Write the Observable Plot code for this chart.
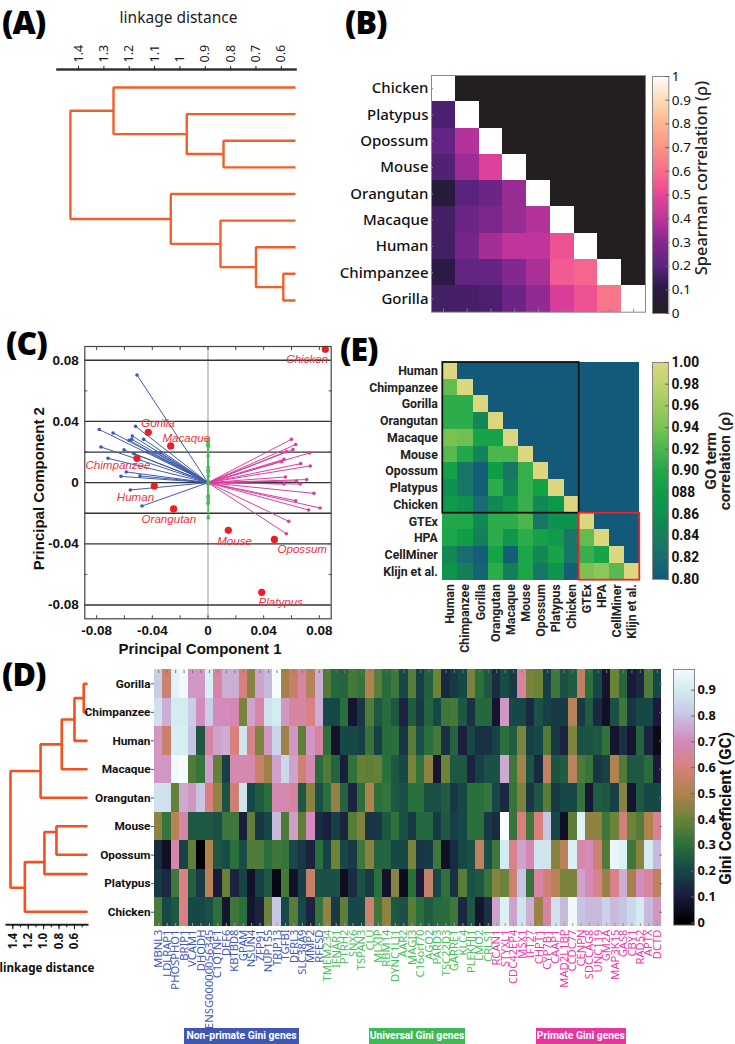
<!DOCTYPE html>
<html><head><meta charset="utf-8">
<script src="https://cdn.jsdelivr.net/npm/d3@7"></script>
<script src="https://cdn.jsdelivr.net/npm/@observablehq/plot@0.6"></script>
<style>
html,body{margin:0;padding:0;background:#fff;width:735px;height:1044px;overflow:hidden}
#page{position:relative;width:735px;height:1044px;overflow:hidden}
#page>div{position:absolute}
.letter{font-family:"Open Sans","Noto Sans",sans-serif;font-weight:800;font-size:32px;line-height:44px;letter-spacing:-1px;color:#000;padding:0 2px}
.tag{color:#fff;font-family:Roboto,sans-serif;font-weight:700;font-size:10.3px;line-height:16px;text-align:center;white-space:nowrap}
svg{overflow:visible;background:transparent}
</style></head><body><div id="page"></div>
<script>
// ---------- shared labels
const phyloOrder = ["Chicken","Platypus","Opossum","Mouse","Orangutan","Macaque","Human","Chimpanzee","Gorilla"];
const giniRows = ["Gorilla","Chimpanzee","Human","Macaque","Orangutan","Mouse","Opossum","Platypus","Chicken"];

// ---------- panel A dendrogram (node index: 0-8 leaves, 9+ merges)
const aLeafY = [0,1,2,3,4,5,6,7,8];
const aMergeA = [7,6,5,4,2,1,0,15];
const aMergeB = [8,9,10,11,3,13,14,12];
const aMergeH = [0.592,0.70,0.84,1.036,0.828,0.973,1.262,1.432];
const aMergeY = [7.5,6.75,5.875,4.94,2.5,1.75,0.875,2.9];
const aTicks = [1.4,1.3,1.2,1.1,1,0.9,0.8,0.7,0.6];

// ---------- panel B
const spearman = [
 [1],
 [.17,1],
 [.22,.38,1],
 [.18,.34,.47,1],
 [.08,.20,.24,.33,1],
 [.15,.24,.28,.33,.38,1],
 [.15,.26,.35,.40,.40,.53,1],
 [.10,.22,.22,.29,.36,.55,.58,1],
 [.15,.16,.17,.24,.32,.45,.53,.62,1]];
const bStops = [0,.1,.2,.3,.4,.5,.6,.7,.8,.9,1];
const bColors = ["#231f20","#2b1a46","#5a2380","#86288f","#bf359b","#ec4698","#f76d8b","#fb9484","#fdb690","#fedcb8","#ffffff"];

// ---------- panel C
const speciesPC1 = [.0843,-.0429,-.0268,-.051,-.0386,-.0247,.0146,.0477,.0386];
const speciesPC2 = [.0872,.0329,.024,.0159,-.0022,-.0172,-.0312,-.0371,-.0717];
const speciesNames = ["Chicken","Gorilla","Macaque","Chimpanzee","Human","Orangutan","Mouse","Opossum","Platypus"];
const speciesTextX = [.0713,-.0359,-.0156,-.0647,-.0521,-.0281,.0191,.0677,.0522];
const speciesTextY = [.0805,.0386,.0289,.0113,-.0098,-.0238,-.0382,-.0436,-.0779];
const bluePC1 = [-.051,-.0781,-.0682,-.052,-.0544,-.0462,-.0568,-.0548,-.0769,-.0603,-.0718,-.0532,-.0587,-.0625,-.0489,-.0558,-.0474,-.0436,-.0376,-.034];
const bluePC2 = [.0704,.0347,.0325,.0368,.0305,.0283,.0277,.0283,.0233,.0214,.0159,.019,.007,.0041,.0044,-.0048,-.0153,.02,.02,.0196];
const pinkPC1 = [.0599,.063,.0611,.0563,.073,.0546,.0529,.0666,.0735,.0556,.0709,.0635,.0546,.0663,.0761,.063,.0805,.0723,.058,.0563];
const pinkPC2 = [.0283,.0249,.0216,.0203,.0194,.0153,.0137,.0124,.0109,.0037,.002,.0011,-.0009,-.0009,-.007,-.0118,-.0166,-.0179,-.0253,-.0334];
const greenPC1 = [.0002,.0001,.0002,.0002,.0001,.0002,.0001,.0002,.0001,.0002,.0002,.0001,.0002,.0001,.0002,.0001,.0002,.0002,.0001,.0002];
const greenPC2 = [.0277,.0266,.0255,.0251,.0244,.0238,.0174,.01,.0081,.007,.0044,.0011,-.0002,-.0011,-.0087,-.0094,-.0105,-.0126,-.0137,-.0229];
const cLines = [.08,.04,.02,0,-.02,-.04,-.08];
const cTicks = [-.08,-.04,0,.04,.08];
const cMinor = [-.08,-.06,-.04,-.02,0,.02,.04,.06,.08];

// ---------- panel D
const genesNonPrimate = ["MBNL3","LDLRAP1","PHOSPHO1","BRIP1","VCAM1","DHODH","ENSG00000056345","C1QTNF1","DEF6","KBTBD8","GPAM","NSUN4","ZFP91","NUP155","TRIP13","TGFBI","DERL3","SLC38A9","MMP2","RFESD"];
const genesUniversal = ["TMEM234","IFNAR1","PTRH2","SNX6","TSPAN3","CLU","MLXIP","RBM14","DYNC1LI1","AAR2","MAGI3","C16orf70","AGO2","PARD3","TSC22D3","GARRE1","KLC4","PLEKHJ1","LMO2","CRLS1"];
const genesPrimate = ["RCAN1","STYXL1","CDC42EP4","MSX1","IFT27","CHPT1","CYP7B1","CAAP1","MAD2L1BP","CCDC77","CENPN","SDCCAG8","UNC119","GM2A","MAP3K15","GAS8","CBY1","RAD52","APTX","DCTD"];
const giniGorilla = [.82,.57,.93,.97,.72,.72,.92,.66,.76,.76,.6,.44,.74,.78,.98,.48,.55,.66,.52,.76, .36,.28,.27,.34,.32,.5,.37,.29,.33,.2, .37,.18,.26,.4,.13,.17,.2,.42,.3,.24,.14,.21,.17,.65,.42,.4,.18,.33,.22,.25,.54,.3,.2,.08,.4,.28,.1,.13,.36,.2];
const giniChimp = [.87,.76,.9,.9,.82,.7,.82,.7,.7,.68,.42,.74,.66,.87,.9,.72,.65,.66,.61,.76, .2,.2,.3,.08,.16,.36,.24,.29,.24,.12, .25,.17,.27,.2,.33,.34,.24,.15,.28,.28,.08,.72,.2,.2,.13,.22,.18,.17,.17,.52,.17,.25,.13,.06,.22,.33,.16,.2,.2,.1];
const giniHuman = [.72,.56,.91,.91,.8,.24,.66,.74,.76,.6,.88,.62,.43,.72,.84,.47,.72,.38,.72,.65, .3,.07,.2,.2,.18,.32,.18,.29,.3,.16, .37,.22,.3,.34,.15,.27,.11,.2,.15,.15,.19,.3,.25,.42,.18,.2,.36,.17,.12,.43,.22,.23,.24,.31,.08,.15,.08,.27,.12,.04];
const giniMacaque = [.72,.72,.97,.98,.36,.32,.73,.39,.18,.68,.68,.68,.56,.47,.74,.85,.74,.57,.68,.29, .36,.27,.11,.31,.39,.38,.39,.3,.24,.2, .42,.31,.45,.08,.4,.24,.24,.12,.18,.22,.22,.75,.33,.48,.23,.13,.54,.23,.25,.53,.35,.32,.16,.19,.5,.36,.24,.24,.29,.1];
const giniOrangutan = [.87,.87,.39,.75,.72,.8,.6,.46,.23,.57,.88,.2,.25,.3,.68,.68,.65,.24,.44,.22, .3,.46,.27,.12,.3,.5,.3,.32,.24,.22, .3,.3,.22,.22,.25,.16,.2,.3,.3,.32,.2,.13,.32,.42,.16,.24,.37,.17,.2,.2,.32,.09,.25,.24,.18,.44,.08,.24,.2,.2];
const giniMouse = [.45,.32,.52,.66,.24,.24,.24,.22,.33,.33,.11,.38,.16,.2,.78,.35,.73,.38,.7,.14, .11,.18,.12,.37,.43,.16,.16,.24,.31,.22, .17,.28,.28,.17,.24,.18,.2,.3,.3,.17,.14,.99,.32,.6,.33,.6,.8,.2,.06,.38,.93,.45,.45,.33,.4,.58,.4,.36,.5,.63];
const giniOpossum = [.14,.06,.67,.19,.38,0,.5,.24,.21,.3,.21,.36,.36,.3,.33,.32,.2,.16,.12,.3, .19,.4,.2,.17,.33,.44,.27,.27,.2,.2, .42,.16,.17,.33,.06,.14,.2,.22,.54,.22,.33,.9,.62,.74,.68,.88,.88,.44,.52,.92,.67,.7,.57,.36,.95,.92,.33,.44,.9,.78];
const giniPlatypus = [.17,.13,.33,.61,.26,.17,.52,.1,.39,.12,.19,.07,.18,.24,.03,.34,.07,.18,.55,.22, .22,.22,.05,.14,.22,.17,.3,.07,.44,.05, .3,.1,.55,.2,.31,.15,.37,.22,.24,.32,.44,.4,.57,.8,.32,.66,.58,.52,.42,.42,.74,.69,.62,.46,.62,.76,.48,.7,.65,.54];
const giniChicken = [.35,.2,.24,.61,.2,.2,.22,.3,.08,.33,.3,.08,.12,.4,.8,.2,.37,.2,.12,.32, .45,.17,.38,.2,.2,.57,.33,.45,.24,.22, .37,.3,.25,.29,.29,.33,.13,.24,.08,.15,.74,.92,.74,.88,.76,.47,.66,.87,.78,.97,.8,.78,.78,.83,.78,.8,.85,.9,.78,.72];
const giniTable = [giniGorilla,giniChimp,giniHuman,giniMacaque,giniOrangutan,giniMouse,giniOpossum,giniPlatypus,giniChicken];
const dStops = [0,.1,.2,.3,.4,.5,.6,.7,.8,.9,1];
const dColors = ["#000000","#1c1a3c","#164848","#2a703c","#6c8338","#b0824e","#d9807f","#d48abc","#c6c6e4","#d2ecf0","#ffffff"];
const dTicks = [.1,.2,.3,.4,.5,.6,.7,.8,.9];
// D dendrogram
const dLeafY = [0,1,2,3,4,5,6,6.68,8];
const dMergeA = [0,9,10,11,5,13,14,12];
const dMergeB = [1,2,3,4,6,7,8,15];
const dMergeH = [.48,.6,.765,1.04,.834,.99,1.244,1.43];
const dMergeY = [.5,1.25,2.125,3.06,5.2,6.26,7.16,5.1];
const dDendroTicks = [1.4,1.2,1,.8,.6];
const dDendroMinor = [1.4,1.3,1.2,1.1,1,.9,.8,.7,.6,.5];

// ---------- panel E
const goNames = ["Human","Chimpanzee","Gorilla","Orangutan","Macaque","Mouse","Opossum","Platypus","Chicken","GTEx","HPA","CellMiner","Klijn et al."];
const goCorr = [
 [1],
 [.93,1],
 [.905,.905,1],
 [.905,.905,.85,1],
 [.94,.935,.89,.89,1],
 [.925,.90,.845,.92,.92,1],
 [.885,.83,.805,.88,.83,.91,1],
 [.86,.83,.805,.905,.845,.91,.885,1],
 [.875,.86,.82,.85,.875,.91,.85,.87,1],
 [.90,.90,.85,.905,.905,.92,.83,.86,.86,1],
 [.895,.88,.84,.905,.87,.905,.885,.875,.83,.93,1],
 [.85,.82,.805,.89,.805,.895,.85,.89,.83,.91,.89,1],
 [.865,.84,.81,.905,.84,.895,.83,.865,.805,.94,.95,.925,1]];
const eStops = [.8,.82,.84,.86,.88,.9,.92,.94,.96,.98,1];
const eColors = ["#12597a","#1a6c70","#14805a","#0f9150","#0f9e46","#22a84a","#4cb64e","#7cc253","#9fcb5e","#c3d26f","#dcd67e"];
const eTicks = [.8,.82,.84,.86,.88,.9,.92,.94,.96,.98,1];
const eTickLabels = ["0.80","0.82","0.84","0.86","088","0.90","0.92","0.94","0.96","0.98","1.00"];

// ---------- layout helpers
const page = document.getElementById("page");
function put(el,left,top){const d=document.createElement("div");d.style.left=left+"px";d.style.top=top+"px";d.appendChild(el);page.appendChild(d);return d;}
function chart(b,opts){
  const plot = Plot.plot({
    width:b.right-b.left+b.ml+b.mr, height:b.bottom-b.top+b.mt+b.mb,
    marginLeft:b.ml,marginRight:b.mr,marginTop:b.mt,marginBottom:b.mb, ...opts});
  put(plot,b.left-b.ml,b.top-b.mt);
}
function html(cls,text,left,top,style={}){
  const d=document.createElement("div");d.className=cls;d.textContent=text;d.style.left=left+"px";d.style.top=top+"px";
  Object.assign(d.style,style);page.appendChild(d);
}
function colorbar(b,stops,colors,domain,ticks,fmt,labelMarks,sty){
  const steps=d3.range(domain[0],domain[1],(domain[1]-domain[0])/240);
  const dy=(domain[1]-domain[0])/230;
  chart(b,{style:sty,x:{axis:null,domain:[0,1]},y:{domain},
    color:{type:"linear",domain:stops,range:colors,interpolate:"rgb"},
    marks:[
      Plot.rect(steps,{x1:0,x2:1,y1:d=>d,y2:d=>Math.min(d+dy,domain[1]),fill:d=>d,shapeRendering:"crispEdges"}),
      Plot.frame({stroke:"#888"}),
      Plot.axisY({anchor:"right",ticks,tickFormat:fmt,label:null,tickSize:-4,tickPadding:7,stroke:"#666",fill:"#111"}),
      ...labelMarks]});
}
function dendroPaths(leafY,A,B,H,Y,leafH){
  const nodeY=i=>i<leafY.length?leafY[i]:Y[i-leafY.length];
  const nodeH=i=>i<leafY.length?leafH:H[i-leafY.length];
  return A.flatMap((a,k)=>[
    {k,v:nodeH(a),r:nodeY(a)},{k,v:H[k],r:nodeY(a)},{k,v:H[k],r:nodeY(B[k])},{k,v:nodeH(B[k]),r:nodeY(B[k])}]);
}

// ---------- panel letters
html("letter","(A)",0,0);
html("letter","(B)",343,0);
html("letter","(C)",4,321);
html("letter","(E)",338,327);
html("letter","(D)",0,652);

// ---------- A
chart({left:57,right:295,top:69,bottom:302.6,ml:0,mr:0,mt:69,mb:4},{
  style:{fontFamily:'"Noto Sans",sans-serif',fontSize:"12.5px",color:"#222"},
  x:{domain:[1.483,.544],axis:null},y:{domain:[8.1,-.677],axis:null},
  marks:[
    Plot.line(dendroPaths(aLeafY,aMergeA,aMergeB,aMergeH,aMergeY,.544),{x:"v",y:"r",z:"k",stroke:"#f0602a",strokeWidth:2.4,strokeLinejoin:"miter",strokeLinecap:"butt"}),
    Plot.frame({anchor:"top",stroke:"#333",strokeWidth:2.6}),
    Plot.axisX({anchor:"top",ticks:aTicks,tickFormat:d=>String(d),tickRotate:-90,tickSize:4,tickPadding:3,label:null}),
    Plot.text(["linkage distance"],{frameAnchor:"top",dy:-58,dx:2,fontSize:15.5})
  ]});

// ---------- B
const bCells = phyloOrder.flatMap((r,i)=>phyloOrder.map((c,j)=>({r,c,v:j<=i?spearman[i][j]:0})));
chart({left:431,right:645,top:75,bottom:311.7,ml:100,mr:4,mt:4,mb:4},{
  style:{fontFamily:'"Noto Sans",sans-serif',fontSize:"15px",color:"#111",fontWeight:500},
  x:{domain:phyloOrder,padding:0,round:false,axis:null},y:{domain:phyloOrder,padding:0,round:false,label:null},
  color:{type:"linear",domain:bStops,range:bColors,interpolate:"rgb"},
  marks:[
    Plot.cell(bCells,{x:"c",y:"r",fill:"v",shapeRendering:"crispEdges"}),
    Plot.frame({stroke:"#888"}),
    Plot.axisY({anchor:"left",tickSize:-2,tickPadding:5,stroke:"#888",fill:"#111",label:null}),
    Plot.axisX({anchor:"bottom",tickSize:-3,tickFormat:()=>"",stroke:"#888",label:null})
  ]});
colorbar({left:651.7,right:668,top:76,bottom:313,ml:2,mr:67,mt:4,mb:4},bStops,bColors,[0,1],bStops,d=>String(d),
  [Plot.text(["Spearman correlation (ρ)"],{frameAnchor:"right",textAnchor:"middle",rotate:-90,dx:33,dy:-17,fontSize:16.4,fontWeight:500})],
  {fontFamily:'"Noto Sans",sans-serif',fontSize:"13.5px",color:"#222"});

// ---------- C
chart({left:84.3,right:330.7,top:346,bottom:618.3,ml:84.3,mr:4,mt:6,mb:42},{
  style:{fontFamily:'"Liberation Sans",Arial,sans-serif',fontSize:"13.5px",color:"#111",fontWeight:700},
  x:{domain:[-.0885,.0885]},y:{domain:[-.089,.089]},
  marks:[
    Plot.ruleX([0],{stroke:"#999",strokeWidth:1}),
    Plot.ruleY(cLines,{stroke:"#333",strokeWidth:1.3}),
    Plot.link(bluePC1,{x1:0,y1:0,x2:bluePC1,y2:bluePC2,stroke:"#3f5cab",strokeWidth:1}),
    Plot.dot(bluePC1,{x:bluePC1,y:bluePC2,r:1.8,fill:"#3f5cab"}),
    Plot.link(pinkPC1,{x1:0,y1:0,x2:pinkPC1,y2:pinkPC2,stroke:"#d8409f",strokeWidth:1}),
    Plot.dot(pinkPC1,{x:pinkPC1,y:pinkPC2,r:1.8,fill:"#d8409f"}),
    Plot.link(greenPC1,{x1:0,y1:0,x2:greenPC1,y2:greenPC2,stroke:"#4cbb5e",strokeWidth:1.4}),
    Plot.dot(greenPC1,{x:greenPC1,y:greenPC2,r:1.9,fill:"#4cbb5e"}),
    Plot.dot(speciesPC1,{x:speciesPC1,y:speciesPC2,r:3.6,fill:"#ee1c25"}),
    Plot.text(speciesNames,{x:speciesTextX,y:speciesTextY,text:d=>d,fill:"#ed3338",fontStyle:"italic",fontWeight:400,fontSize:11.6}),
    Plot.frame({stroke:"#444",strokeWidth:1.2}),
    Plot.axisX({anchor:"top",ticks:cMinor,tickSize:-3,tickFormat:()=>"",stroke:"#444",label:null}),
    Plot.axisX({anchor:"bottom",ticks:cMinor,tickSize:-3,tickFormat:()=>"",stroke:"#444",label:null}),
    Plot.axisY({anchor:"right",ticks:[.06,.04,.02,-.02,-.04,-.06],tickSize:-3,tickFormat:()=>"",stroke:"#444",label:null}),
    Plot.axisY({anchor:"left",ticks:[.06,.02,-.02,-.06],tickSize:-3,tickFormat:()=>"",stroke:"#444",label:null}),
    Plot.axisX({anchor:"bottom",ticks:cTicks,tickSize:0,tickPadding:7,tickFormat:d=>d===0?"0":d.toFixed(2),label:null}),
    Plot.axisY({anchor:"left",ticks:cTicks,tickSize:0,tickPadding:6,tickFormat:d=>d===0?"0":d.toFixed(2),label:null}),
    Plot.text(["Principal Component 1"],{frameAnchor:"bottom",dy:35,dx:-8,fontSize:15}),
    Plot.text(["Principal Component 2"],{frameAnchor:"left",textAnchor:"middle",rotate:-90,dx:-46,dy:6,fontSize:15})
  ]});

// ---------- E
const eCells = goNames.flatMap((r,i)=>goNames.map((c,j)=>({i,j,v:j<=i?goCorr[i][j]:.8})));
const eMid = goNames.map((_,i)=>i+.5);
chart({left:442.3,right:639.3,top:362.3,bottom:580,ml:102.3,mr:6,mt:4,mb:64},{
  style:{fontFamily:'Roboto,sans-serif',fontSize:"12.3px",color:"#222",fontWeight:700},
  x:{domain:[0,13]},y:{domain:[13,0]},
  color:{type:"linear",domain:eStops,range:eColors,interpolate:"rgb"},
  marks:[
    Plot.rect(eCells,{x1:"j",x2:d=>d.j+1,y1:"i",y2:d=>d.i+1,fill:"v",shapeRendering:"crispEdges"}),
    Plot.rect([{a:0,b:9}],{x1:"a",x2:"b",y1:"a",y2:"b",fill:"none",stroke:"#111",strokeWidth:1.8}),
    Plot.rect([{a:9,b:13}],{x1:"a",x2:"b",y1:"a",y2:"b",fill:"none",stroke:"#e8262c",strokeWidth:1.8}),
    Plot.axisX({anchor:"bottom",ticks:eMid,tickFormat:d=>goNames[d-.5],tickRotate:-90,tickSize:0,tickPadding:4,label:null}),
    Plot.axisY({anchor:"left",ticks:eMid,tickFormat:d=>goNames[d-.5],tickSize:0,tickPadding:5,label:null})
  ]});
colorbar({left:652.3,right:668.3,top:362.3,bottom:580,ml:2,mr:67,mt:4,mb:6},eStops,eColors,[.8,1],eTicks,d=>eTickLabels[eTicks.findIndex(t=>Math.abs(t-d)<1e-6)],
  [Plot.text(["GO term"],{frameAnchor:"right",textAnchor:"middle",rotate:-90,dx:43,dy:-10,fontSize:15.5}),
   Plot.text(["correlation (ρ)"],{frameAnchor:"right",textAnchor:"middle",rotate:-90,dx:57,dy:-10,fontSize:15.5})],
  {fontFamily:'Roboto,sans-serif',fontSize:"13.8px",color:"#222",fontWeight:700});

// ---------- D dendrogram
chart({left:6,right:87,top:672,bottom:924.3,ml:6,mr:4,mt:6,mb:50},{
  style:{fontFamily:'"Noto Sans",sans-serif',fontSize:"11.5px",color:"#111",fontWeight:700},
  x:{domain:[1.482,.431],axis:null},y:{domain:[8.46,-.4],axis:null},
  marks:[
    Plot.line(dendroPaths(dLeafY,dMergeA,dMergeB,dMergeH,dMergeY,.444),{x:"v",y:"r",z:"k",stroke:"#f4511e",strokeWidth:2.6,strokeLinejoin:"miter"}),
    Plot.frame({anchor:"bottom",stroke:"#222",strokeWidth:2}),
    Plot.axisX({anchor:"bottom",ticks:dDendroMinor,tickSize:3,tickFormat:()=>"",label:null}),
    Plot.axisX({anchor:"bottom",ticks:dDendroTicks,tickSize:5,tickPadding:3,tickRotate:-90,tickFormat:d=>d.toFixed(1),label:null}),
    Plot.text(["linkage distance"],{frameAnchor:"bottom",dy:47,fontSize:11.6})
  ]});

// ---------- D heatmap
const allGenes=[...genesNonPrimate,...genesUniversal,...genesPrimate];
const dCells = giniRows.flatMap((r,i)=>allGenes.map((g,j)=>({r,g,v:giniTable[i][j]})));
chart({left:154,right:661,top:669,bottom:926,ml:72,mr:6,mt:4,mb:104},{
  style:{fontFamily:'"Noto Sans",sans-serif',fontSize:"11.2px",color:"#111"},
  x:{domain:allGenes,padding:0,round:false,axis:null},y:{domain:giniRows,padding:0,round:false,axis:null},
  color:{type:"linear",domain:dStops,range:dColors,interpolate:"rgb"},
  marks:[
    Plot.cell(dCells,{x:"g",y:"r",fill:"v",shapeRendering:"crispEdges"}),
    Plot.axisX({anchor:"top",tickSize:-3,tickFormat:()=>"",stroke:"#777",label:null}),
    Plot.axisX({anchor:"bottom",tickSize:-3,tickFormat:()=>"",stroke:"#999",label:null}),
    Plot.axisY({anchor:"right",tickSize:-3,tickFormat:()=>"",stroke:"#777",label:null}),
    Plot.axisX({anchor:"bottom",ticks:genesNonPrimate,tickRotate:-90,tickSize:0,tickPadding:3,fill:"#3f57b3",label:null}),
    Plot.axisX({anchor:"bottom",ticks:genesUniversal,tickRotate:-90,tickSize:0,tickPadding:3,fill:"#45bf5a",label:null}),
    Plot.axisX({anchor:"bottom",ticks:genesPrimate,tickRotate:-90,tickSize:0,tickPadding:3,fill:"#ea3ba6",label:null}),
    Plot.axisY({anchor:"left",tickSize:3,tickPadding:1,stroke:"#555",fill:"#111",fontWeight:700,fontSize:11.8,fontFamily:"Roboto,sans-serif",label:null})
  ]});
colorbar({left:672.7,right:693.7,top:669.3,bottom:925,ml:2,mr:41,mt:4,mb:10},dStops,dColors,[-.009,.98],dTicks.concat([0]),d=>d===0?"0":String(d),
  [Plot.text(["Gini Coefficient (GC)"],{frameAnchor:"right",textAnchor:"middle",rotate:-90,dx:31,dy:11,fontSize:16.6,fontFamily:"Roboto,sans-serif"})],
  {fontFamily:'"Noto Sans",sans-serif',fontSize:"12.8px",color:"#111",fontWeight:700});

// ---------- D gene-group tags
html("tag","Non-primate Gini genes",184.3,1028,{width:"114.4px",height:"16px",background:"#3f57b3"});
html("tag","Universal Gini genes",369,1028,{width:"96px",height:"16px",background:"#3fb957"});
html("tag","Primate Gini genes",536,1028,{width:"89.7px",height:"16px",background:"#e8369e"});
</script></body></html>
